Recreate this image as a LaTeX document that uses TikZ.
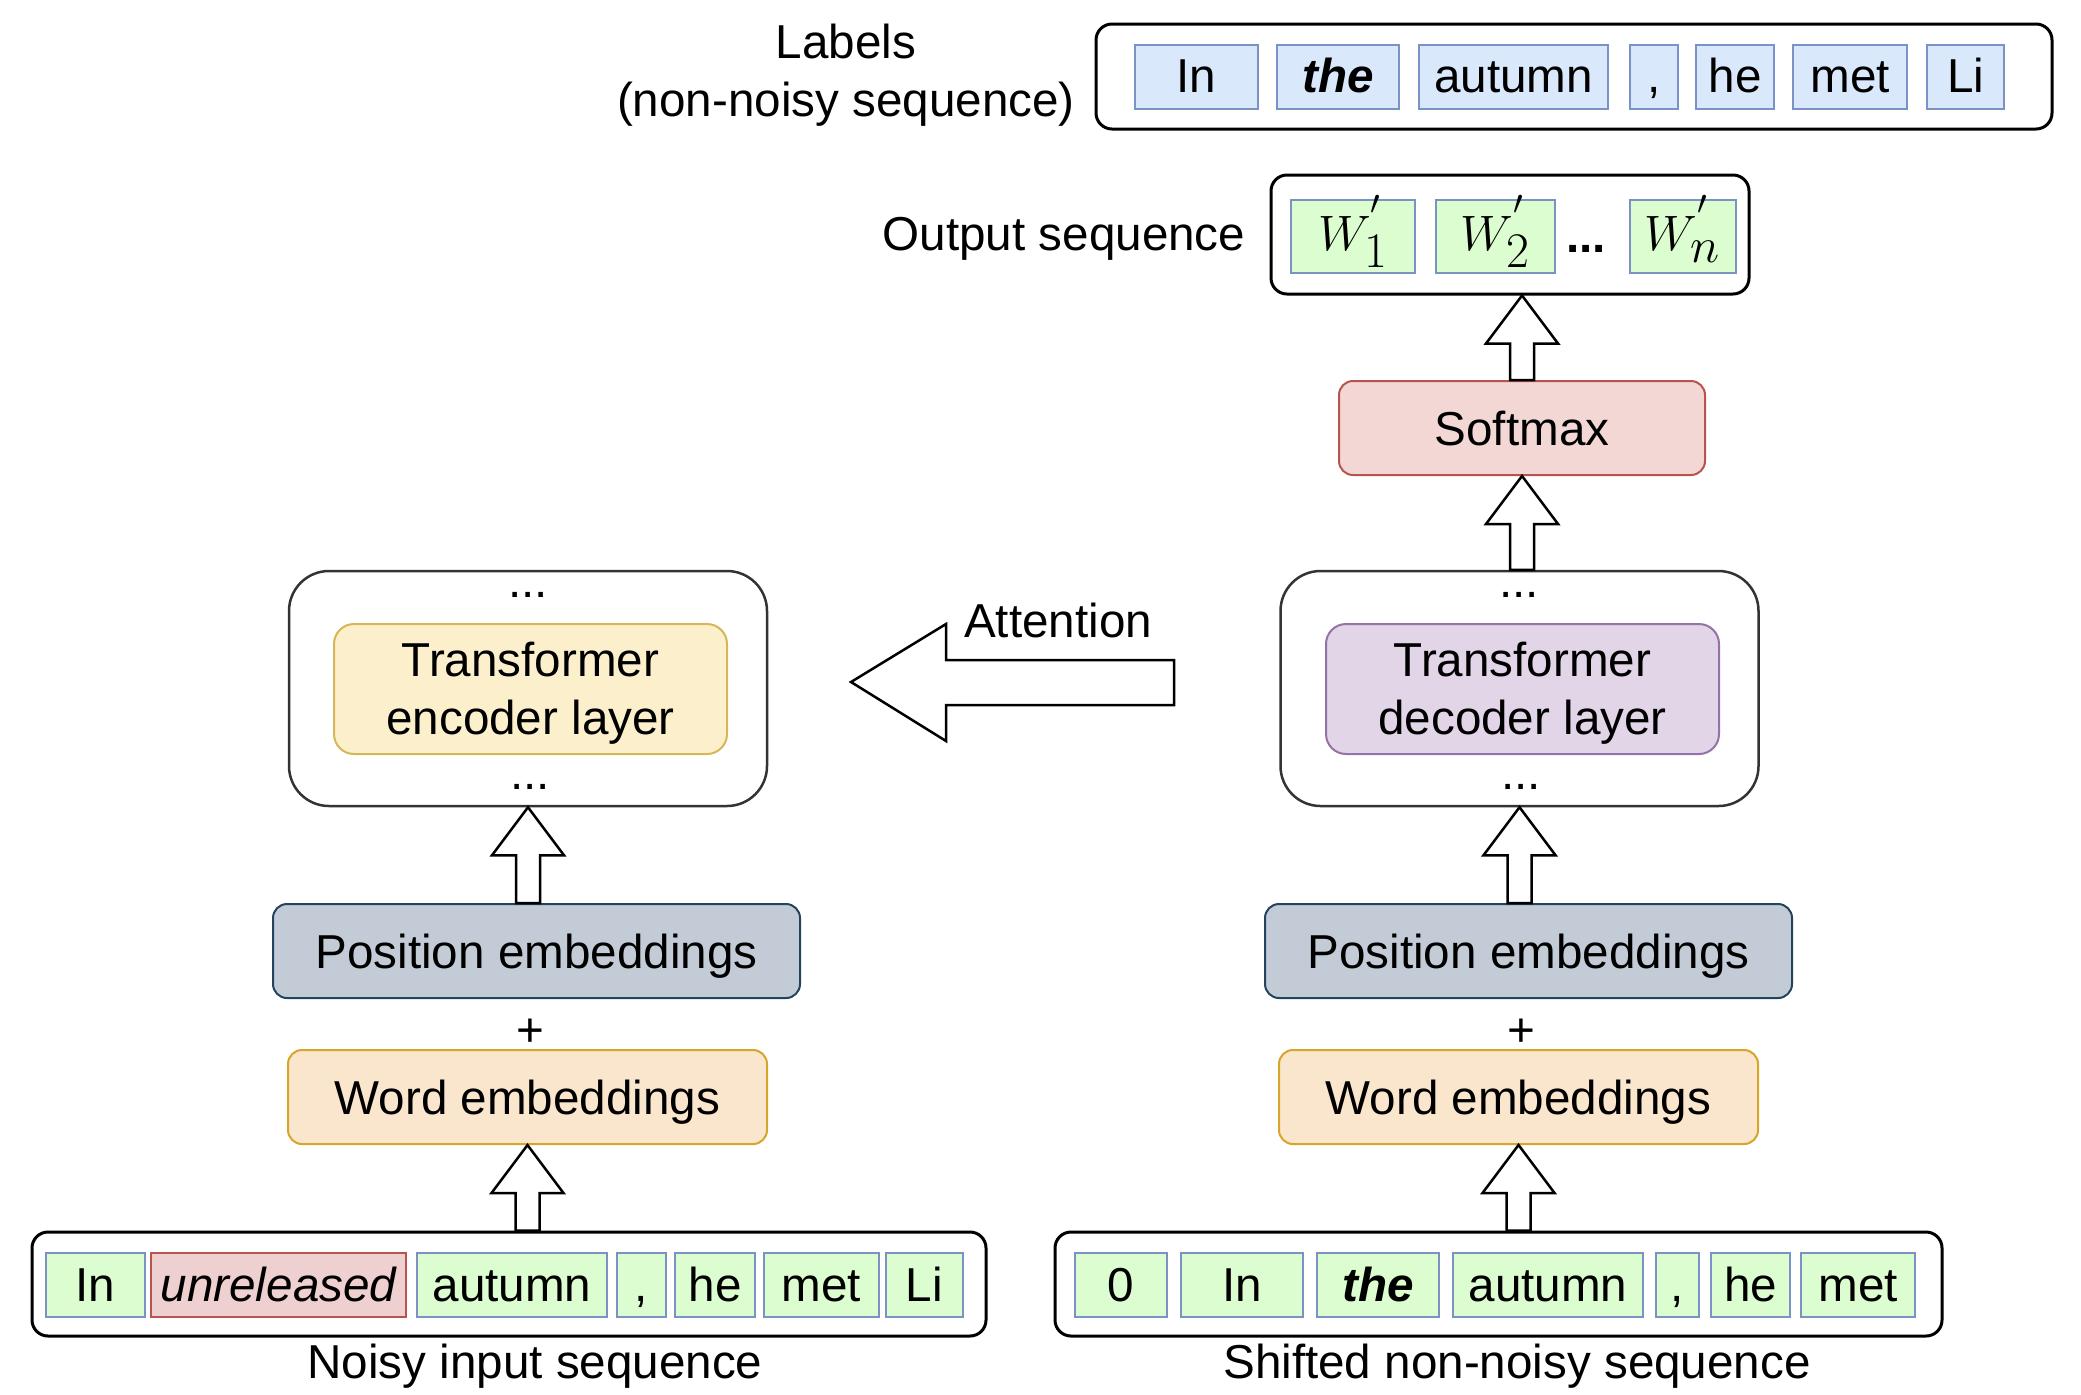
\documentclass[tikz,border=0pt]{standalone}
\usepackage{fontspec}
\setmainfont{Liberation Sans}
\usetikzlibrary{calc}

\definecolor{lblfill}{HTML}{DAE8FC}
\definecolor{tokline}{HTML}{7A93C4}
\definecolor{tokgreen}{HTML}{DCFDD0}
\definecolor{noisefill}{HTML}{EDD0CF}
\definecolor{noiseline}{HTML}{B85450}
\definecolor{softfill}{HTML}{F2D7D5}
\definecolor{encfill}{HTML}{FCF0CC}
\definecolor{encline}{HTML}{D6B656}
\definecolor{decfill}{HTML}{E1D5E7}
\definecolor{decline}{HTML}{9673A6}
\definecolor{posfill}{HTML}{C3CCD6}
\definecolor{posline}{HTML}{23445D}
\definecolor{wordfill}{HTML}{FAE6CC}
\definecolor{wordline}{HTML}{D7A52A}

\tikzset{every picture/.style={line width=0.75pt}}
\tikzset{
  txt/.style={inner sep=0pt, font=\fontsize{23.8}{29}\selectfont},
  seqbox/.style={draw=black, line width=1.5pt, rounded corners=8pt, fill=white, inner sep=0pt},
  tok/.style={txt, draw=tokline, line width=1pt, fill=tokgreen, minimum height=32pt, text height=19pt, text depth=3pt},
  lbltok/.style={tok, fill=lblfill},
  outtok/.style={tok, minimum height=36.5pt, font=\fontsize{34}{40}\selectfont, text height=23pt, text depth=9pt},
  layerbox/.style={txt, align=center, line width=1pt, rounded corners=7pt, minimum height=47pt, text height=17pt, text depth=0pt},
  stackbox/.style={txt, align=center, line width=1pt, minimum width=196.5pt, minimum height=65pt, rounded corners=10pt},
  blockbox/.style={draw=black!80, line width=1.25pt, rounded corners=20pt, fill=white, inner sep=0pt, minimum width=239pt, minimum height=117.5pt},
  blockarr/.style={draw=black, line width=1.25pt, fill=white, line join=miter}
}

\begin{document}
\begin{tikzpicture}[x=0.5pt,y=0.5pt,yscale=-1,xscale=1]
\useasboundingbox (0,0) rectangle (2081,1394);

% Labels
\node[txt, align=center] (lbltitle) at (846,75) {Labels\\(non-noisy sequence)};
\node[seqbox, minimum width=478pt, minimum height=52.5pt] (labels) at (1574,76.5) {};
\node[lbltok, minimum width=61.5pt] (l1) at (1196.5,76.5) {In};
\node[lbltok, minimum width=61pt] (l2) at (1338,76.5) {\bfseries\itshape the};
\node[lbltok, minimum width=94.5pt] (l3) at (1513.5,76.5) {autumn};
\node[lbltok, minimum width=24pt] (l4) at (1654,76.5) {,};
\node[lbltok, minimum width=39pt] (l5) at (1735,76.5) {he};
\node[lbltok, minimum width=57pt] (l6) at (1850,76.5) {met};
\node[lbltok, minimum width=38.5pt] (l7) at (1965.5,76.5) {Li};

% Output sequence
\node[txt] (outtitle) at (1064,239) {Output sequence};
\node[seqbox, minimum width=239pt, minimum height=59.5pt] (outbox) at (1510,234.5) {};
\node[outtok, minimum width=62pt] (w1) at (1353,236.5) {$W^{'}_{1}$};
\node[outtok, minimum width=59.5pt] (w2) at (1495.5,236.5) {$W^{'}_{2}$};
\node[txt, anchor=base, font=\fontsize{23.8}{29}\selectfont\bfseries] (wdots) at (1586,252) {...};
\node[outtok, minimum width=53pt] (wn) at (1683,236.5) {$W^{'}_{n}$};

% Softmax
\node[layerbox, draw=noiseline, fill=softfill, minimum width=183pt] (soft) at (1522,428) {Softmax};

% Encoder / decoder stacks
\node[blockbox] (encOut) at (528,688.5) {};
\node[stackbox, draw=encline, fill=encfill] (enc) at (530.5,689) {\rule{0pt}{21pt}Transformer\\encoder layer};
\node[txt, anchor=base] (encdotsA) at (528,597) {...};
\node[txt, anchor=base] (encdotsB) at (530,789) {...};

\node[blockbox] (decOut) at (1519.5,688.5) {};
\node[stackbox, draw=decline, fill=decfill] (dec) at (1522.5,689) {\rule{0pt}{21pt}Transformer\\decoder layer};
\node[txt, anchor=base] (decdotsA) at (1519,597) {...};
\node[txt, anchor=base] (decdotsB) at (1521,789) {...};

% Embeddings
\node[layerbox, draw=posline, fill=posfill, minimum width=263.5pt] (posL) at (536.5,951) {Position embeddings};
\node[txt] (plusL) at (530,1033) {+};
\node[layerbox, draw=wordline, fill=wordfill, minimum width=239.5pt] (wordL) at (527.5,1097) {Word embeddings};

\node[layerbox, draw=posline, fill=posfill, minimum width=263.5pt] (posR) at (1528.5,951) {Position embeddings};
\node[txt] (plusR) at (1521,1033) {+};
\node[layerbox, draw=wordline, fill=wordfill, minimum width=239.5pt] (wordR) at (1518.5,1097) {Word embeddings};

% Noisy input sequence
\node[seqbox, minimum width=477pt, minimum height=52pt] (noisy) at (509,1284) {};
\node[tok, minimum width=49.5pt] (n1) at (95.5,1285) {In};
\node[tok, draw=noiseline, fill=noisefill, minimum width=127.5pt] (n2) at (278.5,1285) {\itshape unreleased};
\node[tok, minimum width=95pt] (n3) at (512,1285) {autumn};
\node[tok, minimum width=24.5pt] (n4) at (641.5,1285) {,};
\node[tok, minimum width=40pt] (n5) at (715,1285) {he};
\node[tok, minimum width=57.5pt] (n6) at (821.5,1285) {met};
\node[tok, minimum width=38.5pt] (n7) at (924.5,1285) {Li};
\node[txt] (noisytitle) at (535,1366) {Noisy input sequence};

% Shifted non-noisy sequence
\node[seqbox, minimum width=443.5pt, minimum height=52pt] (shifted) at (1498.5,1284) {};
\node[tok, minimum width=46pt] (s1) at (1121,1285) {0};
\node[tok, minimum width=61pt] (s2) at (1242,1285) {In};
\node[tok, minimum width=61pt] (s3) at (1378,1285) {\bfseries\itshape the};
\node[tok, minimum width=95pt] (s4) at (1548,1285) {autumn};
\node[tok, minimum width=21.5pt] (s5) at (1677.5,1285) {,};
\node[tok, minimum width=39.5pt] (s6) at (1750.5,1285) {he};
\node[tok, minimum width=57pt] (s7) at (1858,1285) {met};
\node[txt] (shiftedtitle) at (1517,1366) {Shifted non-noisy sequence};

% Connection
\foreach \src/\dst/\ax in {noisy/wordL/wordL, posL/encOut/encOut, shifted/wordR/wordR, posR/decOut/decOut, decOut/soft/soft, soft/outbox/soft}{
  \path (\ax.center |- \src.north) coordinate (s) (\ax.center |- \dst.south) coordinate (t);
  \draw[blockarr] ($(s)+(-12,0)$) -- ($(t)+(-12,48)$) -- ($(t)+(-36,48)$) -- (t) -- ($(t)+(36,48)$) -- ($(t)+(12,48)$) -- ($(s)+(12,0)$) -- cycle;
}

% Attention
\coordinate (atttip) at (851,682);
\coordinate (atttail) at (1174,682);
\draw[blockarr] (atttip) -- ($(atttip)+(95,-58)$) -- ($(atttip)+(95,-22)$) -- ($(atttail)+(0,-22)$) -- ($(atttail)+(0,23)$) -- ($(atttip)+(95,23)$) -- ($(atttip)+(95,59)$) -- cycle;
\node[txt] (atttext) at (1058,620) {Attention};

\end{tikzpicture}
\end{document}
